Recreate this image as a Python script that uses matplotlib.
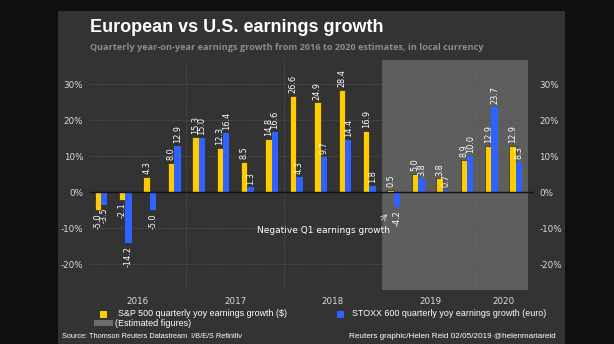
import matplotlib.pyplot as plt
from matplotlib.patches import Rectangle

# quarterly yoy earnings growth, %
quarters = ['Q1 2016', 'Q2 2016', 'Q3 2016', 'Q4 2016',
            'Q1 2017', 'Q2 2017', 'Q3 2017', 'Q4 2017',
            'Q1 2018', 'Q2 2018', 'Q3 2018', 'Q4 2018',
            'Q1 2019', 'Q2 2019', 'Q3 2019', 'Q4 2019',
            'Q1 2020', 'Q2 2020']
sp500 = [-5.0, -2.1, 4.3, 8.0, 15.3, 12.3, 8.5, 14.8, 26.6, 24.9, 28.4, 16.9,
         0.5, 5.0, 3.8, 8.9, 12.9, 12.9]
stoxx600 = [-3.5, -14.2, -5.0, 12.9, 15.0, 16.4, 1.3, 16.6, 4.3, 9.7, 14.4, 1.8,
            -4.2, 3.8, 0.7, 10.0, 23.7, 8.3]
years = ['2016', '2017', '2018', '2019', '2020']
year_pos = [1.5, 5.5, 9.5, 13.5, 16.5]
yticks = [-20, -10, 0, 10, 20, 30]
first_estimate = 12  # Q1 2019 onwards are estimates

YELLOW = '#ffcc00'
BLUE = '#2f62ff'
PANEL = '#333333'
SHADE = '#5e5e5e'
W, H = 614, 344

fig = plt.figure(figsize=(W / 100, H / 100), dpi=100, facecolor='#0f0f0f')
fig.patches.append(Rectangle((58 / W, 0), 507 / W, 1 - 11 / H, transform=fig.transFigure,
                             facecolor=PANEL, edgecolor='none', zorder=-5))

ax = fig.add_axes([90 / W, 54 / H, 438 / W, 230 / H])
ax.set_facecolor('none')
ax.set_xlim(-0.45, 17.5)
ax.set_ylim(-27.2, 36.7)

ax.axvspan(first_estimate - 0.5, 17.5, color=SHADE, zorder=0, lw=0)
for y in yticks:
    ax.axhline(y, color='#555555', lw=0.6, ls=(0, (1.5, 1.5)), zorder=1)
for x in [3.5, 7.5, 11.5, 15.5]:
    ax.axvline(x, color='#555555', lw=0.6, ls=(0, (1.5, 1.5)), zorder=1)
ax.plot([-0.45, 17.7], [0, 0], color='#111111', lw=1, zorder=4, clip_on=False)

bw = 0.26
idx = list(range(len(quarters)))
ax.bar([i - bw / 2 for i in idx], sp500, bw, color=YELLOW, edgecolor='#2a2a2a', lw=0.5, zorder=3)
ax.bar([i + bw / 2 for i in idx], stoxx600, bw, color=BLUE, edgecolor='none', zorder=3)

def label_bars(xs, vals):
    for x, v in zip(xs, vals):
        off = 0.8 if v >= 0 else -0.8
        ax.text(x, v + off, f'{v:.1f}', rotation=90, ha='center',
                va='bottom' if v >= 0 else 'top', color='white', fontsize=5.9, zorder=5)

label_bars([i - bw / 2 for i in idx], sp500)
label_bars([i + bw / 2 for i in idx], stoxx600)

ax.annotate('', xy=(11.82, -5.6), xytext=(11.4, -8.3),
            arrowprops=dict(arrowstyle='->', color='#cccccc', lw=0.7))
ax.text(9.1, -10.6, 'Negative Q1 earnings growth', ha='center', va='center',
        color='white', fontsize=6.5)

for s in ax.spines.values():
    s.set_visible(False)
ax.set_yticks(yticks)
ax.set_yticklabels([f'{t}%' for t in yticks])
ax.set_xticks(year_pos)
ax.set_xticklabels(years)
ax.tick_params(length=0, colors='#dddddd', labelsize=6.3)
ax.tick_params(axis='y', pad=5)
ax.tick_params(axis='x', pad=5)

ax2 = ax.twinx()
ax2.set_ylim(ax.get_ylim())
ax2.set_yticks(yticks)
ax2.set_yticklabels([f'{t}%' for t in yticks])
ax2.tick_params(length=0, colors='#dddddd', labelsize=6.3, pad=8)
for s in ax2.spines.values():
    s.set_visible(False)

fig.text(90 / W, 1 - 27 / H, 'European vs U.S. earnings growth', color='white',
         fontsize=13, fontweight='bold', family='Liberation Sans', va='center')
fig.text(90 / W, 1 - 47 / H,
         'Quarterly year-on-year earnings growth from 2016 to 2020 estimates, in local currency',
         color='#8c8c8c', fontsize=6.55, fontweight='bold', family='Open Sans', va='center')

# legend
fig.patches.append(Rectangle((100 / W, 1 - 318 / H), 7 / W, 7 / H, transform=fig.transFigure,
                             facecolor=YELLOW, edgecolor='none'))
fig.text(118 / W, 1 - 314 / H, 'S&P 500 quarterly yoy earnings growth ($)', color='white',
         fontsize=6.4, family='Liberation Sans', va='center')
fig.patches.append(Rectangle((94 / W, 1 - 326 / H), 19 / W, 6 / H, transform=fig.transFigure,
                             facecolor='#6e6e6e', edgecolor='none'))
fig.text(115 / W, 1 - 323 / H, '(Estimated figures)', color='white',
         fontsize=6.5, family='Liberation Sans', va='center')
fig.patches.append(Rectangle((337 / W, 1 - 318 / H), 7 / W, 7 / H, transform=fig.transFigure,
                             facecolor=BLUE, edgecolor='none'))
fig.text(352 / W, 1 - 314 / H, 'STOXX 600 quarterly yoy earnings growth (euro)', color='white',
         fontsize=6.4, family='Liberation Sans', va='center')

fig.text(62 / W, 1 - 337 / H, 'Source: Thomson Reuters Datastream  I/B/E/S Refinitiv',
         color='white', fontsize=5.3, family='Liberation Sans', va='center')
fig.text(556 / W, 1 - 336 / H, 'Reuters graphic/Helen Reid 02/05/2019 @helenmariareid',
         color='white', fontsize=5.9, family='Liberation Sans', va='center', ha='right')

fig.savefig('out.png', dpi=100, facecolor=fig.get_facecolor())
